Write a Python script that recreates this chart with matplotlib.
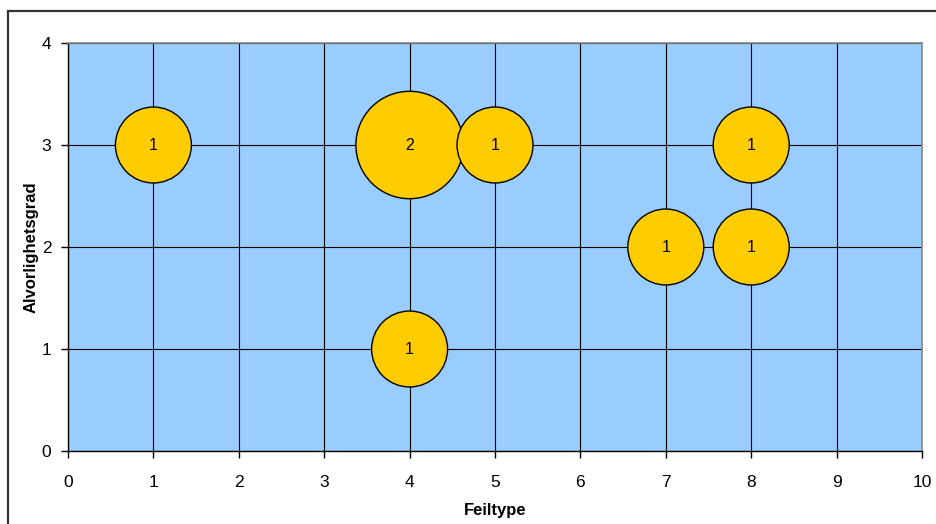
"""Bubble chart: Feiltype vs Alvorlighetsgrad."""

import matplotlib.pyplot as plt
import matplotlib.patches as mpatches

plt.rcParams["font.family"] = ["Liberation Sans", "DejaVu Sans"]

feiltype = [4, 1, 5, 8, 7, 8, 4]
alvorlighetsgrad = [3, 3, 3, 3, 2, 2, 1]
antall = [2, 1, 1, 1, 1, 1, 1]

fig = plt.figure(figsize=(9.37, 5.24), dpi=100)
fig.patch.set_facecolor("white")

# outer chart frame (left and top edges visible, rest off-canvas)
frame = mpatches.Rectangle(
    (8 / 937, -0.1), 1.2, 1 - 11 / 524 + 0.1,
    transform=fig.transFigure, fill=False, edgecolor="#333333", linewidth=1.6,
)
fig.patches.append(frame)

ax = fig.add_axes([68 / 937, 73 / 524, 854 / 937, 408 / 524])
ax.set_facecolor("#99CCFF")
ax.set_xlim(0, 10)
ax.set_ylim(0, 4)
ax.set_xticks(range(0, 11))
ax.set_yticks(range(0, 5))
ax.grid(True, color="black", linewidth=0.8)
ax.set_axisbelow(True)

for side in ("top", "right"):
    ax.spines[side].set_color("#888888")
    ax.spines[side].set_linewidth(1.2)
for side in ("left", "bottom"):
    ax.spines[side].set_color("black")
    ax.spines[side].set_linewidth(1.0)

ax.tick_params(direction="out", length=5, width=1, color="black",
               labelsize=12.5)
ax.tick_params(axis="x", pad=12)
ax.tick_params(axis="y", pad=7)

size_per_unit = 2990
ax.scatter(feiltype, alvorlighetsgrad, s=[a * size_per_unit for a in antall],
           c="#FFCC00", edgecolors="black", linewidths=1.0, zorder=3,
           clip_on=False)
for x, y, a in zip(feiltype, alvorlighetsgrad, antall):
    ax.text(x, y, str(a), ha="center", va="center", fontsize=11.5, zorder=4)

ax.set_xlabel("Feiltype", fontsize=12, fontweight="bold", labelpad=10)
ax.set_ylabel("Alvorlighetsgrad", fontsize=12, fontweight="bold", labelpad=2)

fig.savefig("out.png", dpi=100)
plt.close(fig)
